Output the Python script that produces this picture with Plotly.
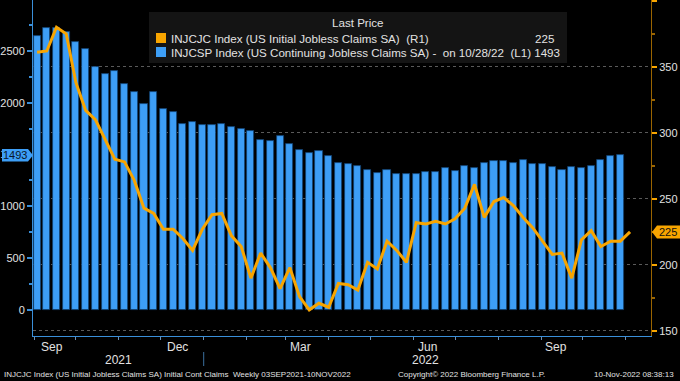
import pandas as pd
import plotly.graph_objects as go

# ---------------- data ----------------
cont_claims = [2645, 2719, 2720, 2683, 2587, 2522, 2343, 2281, 2311, 2181,
               2107, 1985, 2107, 1937, 1911, 1798, 1815, 1789, 1783, 1795,
               1766, 1750, 1725, 1644, 1628, 1676, 1602, 1545, 1513, 1535,
               1482, 1416, 1406, 1390, 1348, 1319, 1348, 1309, 1316, 1316,
               1332, 1332, 1374, 1342, 1390, 1374, 1422, 1438, 1438, 1416,
               1448, 1409, 1409, 1383, 1351, 1377, 1367, 1390, 1448, 1486,
               1493]
init_claims = [361, 362, 380, 375, 338, 317, 310, 295, 280, 278,
               264, 243, 239, 227, 227, 220, 211, 227, 238, 239,
               222, 214, 190, 209, 198, 182, 198, 176, 166, 171,
               168, 186, 185, 181, 202, 197, 218, 211, 202, 232,
               231, 233, 231, 235, 243, 261, 236, 248, 251, 245,
               236, 228, 218, 208, 209, 190, 219, 226, 214, 218,
               218, 225]
start_date = "2021-09-03"
cont_dates = pd.date_range(start_date, periods=len(cont_claims), freq="7D")
init_dates = pd.date_range(start_date, periods=len(init_claims), freq="7D")

month_labels = ["Sep", "Dec", "Mar", "Jun", "Sep"]
month_label_dates = ["2021-09-14", "2021-12-13", "2022-03-12", "2022-06-11", "2022-09-12"]
year_labels = ["2021", "2022"]
year_label_dates = ["2021-11-01", "2022-06-10"]
left_ticks = [0, 500, 1000, 1500, 2000, 2500]
right_ticks = [150, 200, 250, 300, 350, 400]

# ---------------- style / geometry ----------------
W, H = 680, 381
ML, MR, MT, MB = 33, 29, 0, 45
PW, PH = W - ML - MR, H - MT - MB
BLUE = "#3d9ef6"
ORANGE = "#f8a500"
AXBLUE = "#3a8fd9"
AXORANGE = "#9a6400"
TXT = "#e2e2e2"
FONT = "Liberation Sans"
LEGSZ = 11.6
LRANGE = [-251, 2992]
RRANGE = [146.2, 400.6]


def px(x):
    return (x - ML) / PW


def py(y):
    return (MT + PH - y) / PH


fig = go.Figure()
fig.add_trace(go.Bar(
    x=cont_dates, y=cont_claims, yaxis="y",
    width=5.1 * 86400000,
    marker=dict(color=BLUE, line=dict(color="#12406e", width=0.8)),
    showlegend=False, hoverinfo="skip"))
fig.add_trace(go.Scatter(
    x=init_dates, y=init_claims, yaxis="y2", mode="lines",
    line=dict(color=ORANGE, width=3),
    showlegend=False, hoverinfo="skip"))

month_starts = pd.date_range("2021-09-01", "2022-11-01", freq="MS")

fig.update_layout(
    template="none",
    width=W, height=H, autosize=False,
    margin=dict(l=ML, r=MR, t=MT, b=MB, pad=0, autoexpand=False),
    paper_bgcolor="#000000", plot_bgcolor="#000000",
    font=dict(family=FONT, size=11, color=TXT),
    bargap=0,
    xaxis=dict(
        type="date", range=["2021-08-31 02:00", "2022-11-19 02:00"],
        automargin=False,
        showgrid=False, zeroline=False,
        showline=True, linecolor=AXBLUE, linewidth=1,
        tickmode="array", tickvals=list(month_starts),
        ticktext=[""] * len(month_starts),
        ticks="outside", ticklen=3, tickcolor="#6d8fb3", tickwidth=1,
    ),
    yaxis=dict(
        range=LRANGE, side="left", automargin=False,
        showgrid=False, zeroline=False,
        showline=True, linecolor=AXBLUE, linewidth=1,
        tickmode="array", tickvals=left_ticks,
        ticktext=[str(v) for v in left_ticks],
        ticks="outside", ticklen=5, tickwidth=2, tickcolor=AXBLUE,
        tickfont=dict(size=11, color=TXT),
        minor=dict(tickvals=[v + 250 for v in left_ticks],
                   ticks="outside", ticklen=3, tickcolor=AXBLUE, showgrid=False),
    ),
    yaxis2=dict(
        range=RRANGE, side="right", overlaying="y", automargin=False,
        showgrid=True, gridcolor="#5a5a5a", griddash="dot", gridwidth=1,
        zeroline=False,
        showline=True, linecolor=AXORANGE, linewidth=1,
        tickmode="array", tickvals=right_ticks,
        ticktext=[str(v) if v < 400 else "" for v in right_ticks],
        ticks="outside", ticklen=5, tickwidth=2, tickcolor=ORANGE,
        tickfont=dict(size=11, color=TXT),
        minor=dict(tickvals=[v + 25 for v in right_ticks[:-1]],
                   ticks="outside", ticklen=3, tickcolor=AXORANGE, showgrid=False),
    ),
)

shapes = []
annos = []

# legend box
shapes.append(dict(type="rect", xref="paper", yref="paper",
                   x0=px(149), x1=px(567), y0=py(63), y1=py(12),
                   fillcolor="#141414", line=dict(width=0), layer="above"))
shapes.append(dict(type="rect", xref="paper", yref="paper",
                   x0=px(156), x1=px(166), y0=py(43), y1=py(33),
                   fillcolor=ORANGE, line=dict(width=0), layer="above"))
shapes.append(dict(type="rect", xref="paper", yref="paper",
                   x0=px(156), x1=px(166), y0=py(57), y1=py(47),
                   fillcolor=BLUE, line=dict(width=0), layer="above"))
annos.append(dict(text="Last Price", xref="paper", yref="paper",
                  x=px(358), y=py(23), xanchor="center", yanchor="middle",
                  showarrow=False, font=dict(size=LEGSZ, color=TXT)))
annos.append(dict(text="INJCJC Index (US Initial Jobless Claims SA)  (R1)",
                  xref="paper", yref="paper", x=px(169), y=py(38.5),
                  xanchor="left", yanchor="middle", showarrow=False,
                  font=dict(size=LEGSZ, color=TXT)))
annos.append(dict(text=str(init_claims[-1]), xref="paper", yref="paper",
                  x=px(556), y=py(38.5), xanchor="right", yanchor="middle",
                  showarrow=False, font=dict(size=LEGSZ, color=TXT)))
annos.append(dict(text="INJCSP Index (US Continuing Jobless Claims SA) -  on 10/28/22  (L1) "
                  + str(cont_claims[-1]),
                  xref="paper", yref="paper", x=px(169), y=py(52.5),
                  xanchor="left", yanchor="middle", showarrow=False,
                  font=dict(size=LEGSZ, color=TXT)))

# value tags
lv = cont_claims[-1]
lh = 6.2 * (LRANGE[1] - LRANGE[0]) / PH
shapes.append(dict(type="path", xref="paper", yref="y", layer="above",
                   path=f"M {px(2)},{lv - lh} L {px(28)},{lv - lh} L {px(33)},{lv} "
                        f"L {px(28)},{lv + lh} L {px(2)},{lv + lh} Z",
                   fillcolor=BLUE, line=dict(width=0)))
annos.append(dict(text=str(lv), xref="paper", yref="y", x=px(15), y=lv,
                  xanchor="center", yanchor="middle", showarrow=False,
                  font=dict(size=11, color="#0a1628")))
rv = init_claims[-1]
rh = 6.5 * (RRANGE[1] - RRANGE[0]) / PH
shapes.append(dict(type="path", xref="paper", yref="y2", layer="above",
                   path=f"M {px(652)},{rv} L {px(657)},{rv - rh} L {px(680)},{rv - rh} "
                        f"L {px(680)},{rv + rh} L {px(657)},{rv + rh} Z",
                   fillcolor=ORANGE, line=dict(width=0)))
annos.append(dict(text=str(rv), xref="paper", yref="y2", x=px(668), y=rv,
                  xanchor="center", yanchor="middle", showarrow=False,
                  font=dict(size=11, color="#111111")))

# x-axis labels
for lab, d in zip(month_labels, month_label_dates):
    annos.append(dict(text=lab, xref="x", yref="paper", x=d, y=py(346.5),
                      xanchor="center", yanchor="middle", showarrow=False,
                      font=dict(size=12, color=TXT)))
for lab, d in zip(year_labels, year_label_dates):
    annos.append(dict(text=lab, xref="x", yref="paper", x=d, y=py(360),
                      xanchor="center", yanchor="middle", showarrow=False,
                      font=dict(size=12, color=TXT)))
shapes.append(dict(type="line", xref="x", yref="paper",
                   x0="2022-01-01", x1="2022-01-01", y0=py(352), y1=py(366),
                   line=dict(color="#3a6f9e", width=1)))

# footer
annos.append(dict(text="INJCJC Index (US Initial Jobless Claims SA) Initial Cont Claims  Weekly 03SEP2021-10NOV2022",
                  xref="paper", yref="paper", x=px(2), y=py(374),
                  xanchor="left", yanchor="middle", showarrow=False,
                  font=dict(size=8, color=TXT)))
annos.append(dict(text="Copyright\u00a9 2022 Bloomberg Finance L.P.",
                  xref="paper", yref="paper", x=px(471), y=py(374),
                  xanchor="center", yanchor="middle", showarrow=False,
                  font=dict(size=8, color=TXT)))
annos.append(dict(text="10-Nov-2022 08:38:13",
                  xref="paper", yref="paper", x=px(676), y=py(374),
                  xanchor="right", yanchor="middle", showarrow=False,
                  font=dict(size=8, color=TXT)))

fig.update_layout(shapes=shapes, annotations=annos)
fig.write_html(
    "out.html",
    config={"displayModeBar": False},
    post_script="document.body.style.margin='0';document.body.style.padding='0';"
                "document.body.style.background='#000';"
                "document.documentElement.style.overflow='hidden';",
)
